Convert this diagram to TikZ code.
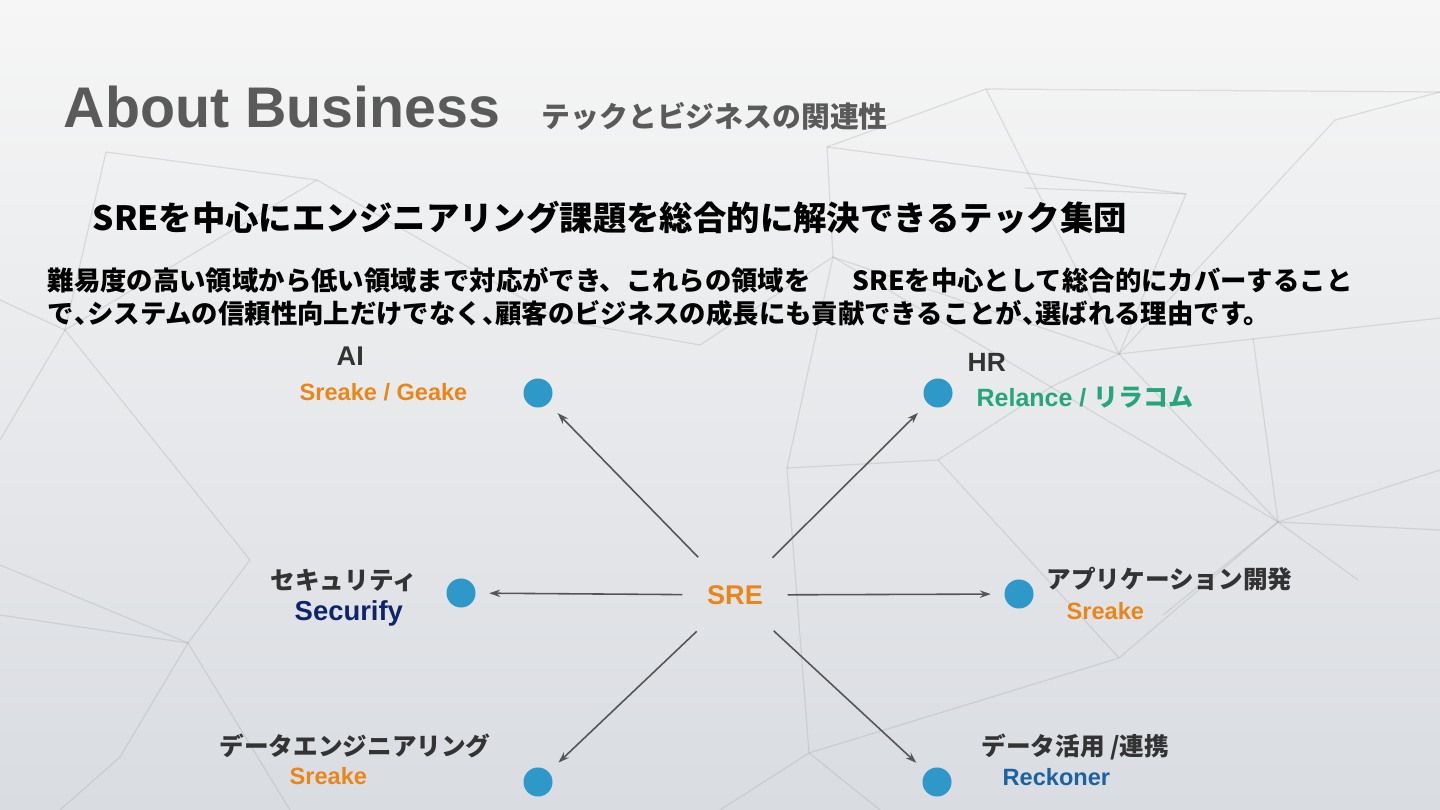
\documentclass[tikz,border=0pt]{standalone}
\usepackage{fontspec}
\setmainfont{Liberation Sans}
\newfontfamily\jpfont{Noto Sans CJK JP}
\usetikzlibrary{arrows.meta,positioning}
\newcommand{\narrowcomma}{\makebox[0.5em][l]{、}}

\begin{document}
\begin{tikzpicture}[x=0.01cm, y=-0.01cm, font=\bfseries,
  dot/.style={circle, fill=dotBlue, inner sep=0pt, minimum size=0.29cm},
  arr/.style={-{Stealth[length=1.1mm,width=0.75mm]}, line width=0.45pt, draw=arrGray, shorten >=1.3mm},
  area/.style={anchor=base west, inner sep=0pt, text=txtDark, font=\jpfont\bfseries\fontsize{7pt}{8pt}\selectfont},
  brand/.style={anchor=base west, inner sep=0pt, font=\bfseries\fontsize{6.7pt}{8pt}\selectfont},
  body/.style={anchor=base west, inner sep=0pt, text=black, font=\jpfont\bfseries\fontsize{7.5pt}{9pt}\selectfont},
  net/.style={draw=gray!70, line width=0.35pt, opacity=0.3},
]
\definecolor{bgTop}{HTML}{F6F6F6}\definecolor{bgMid}{HTML}{E8E9EB}\definecolor{bgBot}{HTML}{D9DCE1}
\definecolor{titleGray}{HTML}{5A5A5A}\definecolor{txtDark}{HTML}{333333}\definecolor{arrGray}{HTML}{555555}
\definecolor{dotBlue}{HTML}{2E98C8}\definecolor{sreOrange}{HTML}{E8861A}\definecolor{relGreen}{HTML}{27A57A}
\definecolor{secNavy}{HTML}{0D2568}\definecolor{recBlue}{HTML}{1A62A0}
\useasboundingbox (0,0) rectangle (1440,810);
% ---- background network ----
\shade[top color=bgTop, middle color=bgMid, bottom color=bgBot] (0,0) rectangle (1440,810);
\foreach \xa/\ya/\xb/\yb in {986/89/827/147, 986/89/1440/92, 986/89/1119/354, 827/147/833/257, 827/147/1186/194,
  833/257/1051/387, 833/257/1119/354, 833/257/700/345, 833/257/787/468, 1119/354/1278/522, 1119/354/1051/387,
  1119/354/1440/318, 1119/354/1335/120, 1051/387/1278/522, 1051/387/938/460, 1278/522/1440/530,
  1278/522/1440/470, 1278/522/1163/615, 1278/522/1119/658, 1278/522/1358/580, 1278/522/1253/338,
  1335/120/1440/92, 1025/188/1186/194, 1186/194/1119/354, 787/468/809/753, 787/468/938/460,
  938/460/1119/658, 809/753/880/810, 809/753/720/810, 809/753/1119/658, 188/643/0/565, 188/643/0/615,
  188/643/120/757, 188/643/250/560, 188/643/290/810, 120/757/60/810, 65/330/0/300, 65/330/0/440,
  65/330/106/152, 65/330/317/180, 106/152/317/180, 317/180/560/320, 700/345/560/320, 250/560/65/330}
  \draw[net] (\xa,\ya) -- (\xb,\yb);
% ---- title ----
\node[anchor=base west, inner sep=0pt, text=titleGray, font=\bfseries\fontsize{16.3pt}{18pt}\selectfont] (title) at (63,128) {About Business};
\node[anchor=base west, inner sep=0pt, text=titleGray, font=\jpfont\bfseries\fontsize{8.2pt}{10pt}\selectfont] (subtitle) at (541,128) {テックとビジネスの関連性};
\node[anchor=base west, inner sep=0pt, text=black, font=\jpfont\bfseries\fontsize{9.5pt}{11pt}\selectfont] (heading) at (92,231) {SREを中心にエンジニアリング課題を総合的に解決できるテック集団};
\node[body] (line1a) at (47,291) {難易度の高い領域から低い領域まで対応ができ、これらの領域を};
\node[body] (line1b) at (852,291) {SREを中心として総合的にカバーすること};
\node[body] (line2) at (47,324) {で\narrowcomma システムの信頼性向上だけでなく\narrowcomma 顧客のビジネスの成長にも貢献できることが\narrowcomma 選ばれる理由です。};
% ---- hub ----
\node[circle, minimum size=1.04cm, inner sep=0pt, text=sreOrange, font=\bfseries\fontsize{7.7pt}{9pt}\selectfont] (sre) at (735,595) {SRE};
% ---- dots ----
\node[dot] (ai) at (538,393) {};
\node[dot] (hr) at (938,393) {};
\node[dot] (security) at (461,593) {};
\node[dot] (appdev) at (1019,594) {};
\node[dot] (dataeng) at (538,782) {};
\node[dot] (datause) at (937,782) {};
\foreach \t in {ai,hr,security,appdev,dataeng,datause}
  \draw[arr] (sre) -- (\t);
% ---- labels ----
\node[brand, text=txtDark, font=\bfseries\fontsize{7.7pt}{9pt}\selectfont] (aiLbl) at (336,366) {AI};
\node[brand, text=sreOrange] (aiBrand) at (299,401) {Sreake / Geake};
\node[brand, text=txtDark, font=\bfseries\fontsize{7.5pt}{9pt}\selectfont] (hrLbl) at (967,372) {HR};
\node[brand, text=relGreen, font=\bfseries\fontsize{7.1pt}{9pt}\selectfont] (hrBrand) at (976,407) {Relance / {\jpfont リラコム}};
\node[area] (secLbl) at (270,589) {セキュリティ};
\node[brand, text=secNavy, font=\bfseries\fontsize{7.8pt}{9pt}\selectfont] (secBrand) at (294,620) {Securify};
\node[area] (appLbl) at (1046,588) {アプリケーション開発};
\node[brand, text=sreOrange] (appBrand) at (1066,619) {Sreake};
\node[area] (engLbl) at (219,755) {データエンジニアリング};
\node[brand, text=sreOrange] (engBrand) at (289,784) {Sreake};
\node[area] (useLbl) at (981,755) {データ活用 /連携};
\node[brand, text=recBlue] (useBrand) at (1002,785) {Reckoner};
\end{tikzpicture}
\end{document}
